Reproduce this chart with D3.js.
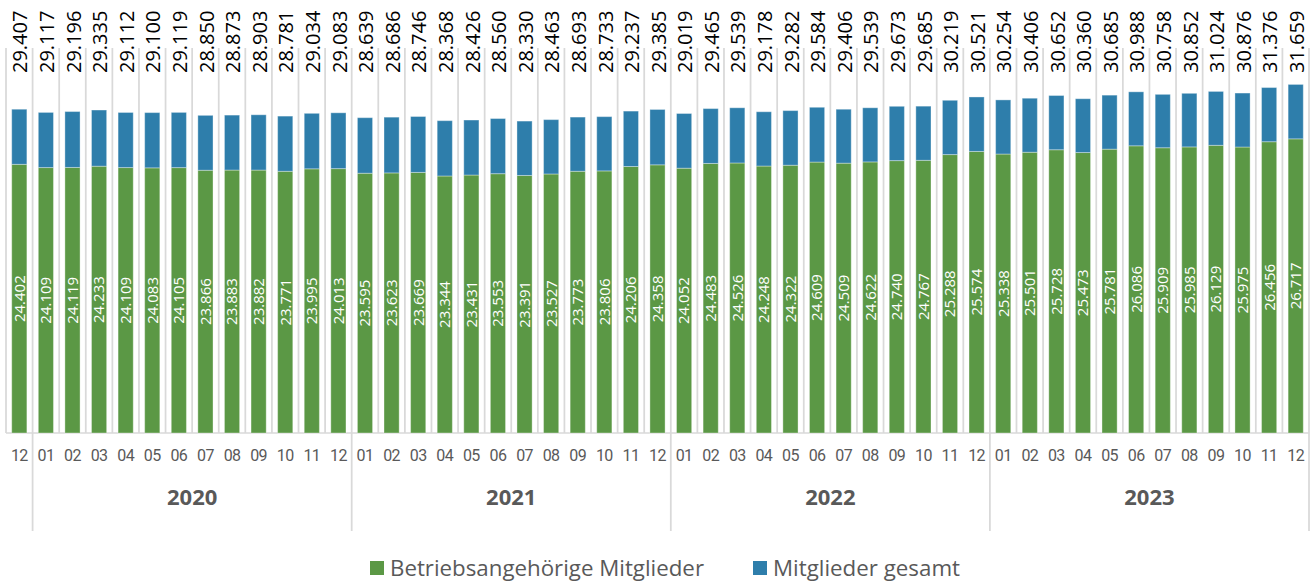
<!DOCTYPE html>
<html>
<head>
<meta charset="utf-8">
<script src="https://cdn.jsdelivr.net/npm/d3@7"></script>
<style>
  body { margin: 0; background: #fff; }
  svg { display: block; font-family: "Open Sans", "Noto Sans", sans-serif; }
</style>
</head>
<body>
<div id="chart"></div>
<script>
// data
var months = ["12",
  "01","02","03","04","05","06","07","08","09","10","11","12",
  "01","02","03","04","05","06","07","08","09","10","11","12",
  "01","02","03","04","05","06","07","08","09","10","11","12",
  "01","02","03","04","05","06","07","08","09","10","11","12"];
var years = ["2019",
  "2020","2020","2020","2020","2020","2020","2020","2020","2020","2020","2020","2020",
  "2021","2021","2021","2021","2021","2021","2021","2021","2021","2021","2021","2021",
  "2022","2022","2022","2022","2022","2022","2022","2022","2022","2022","2022","2022",
  "2023","2023","2023","2023","2023","2023","2023","2023","2023","2023","2023","2023"];
var yearLabels = ["2020", "2021", "2022", "2023"];

// Mitglieder gesamt
var gesamt = [29407,
  29117, 29196, 29335, 29112, 29100, 29119, 28850, 28873, 28903, 28781, 29034, 29083,
  28639, 28686, 28746, 28368, 28426, 28560, 28330, 28463, 28693, 28733, 29237, 29385,
  29019, 29465, 29539, 29178, 29282, 29584, 29406, 29539, 29673, 29685, 30219, 30521,
  30254, 30406, 30652, 30360, 30685, 30988, 30758, 30852, 31024, 30876, 31376, 31659];

// Betriebsangehörige Mitglieder
var betrieb = [24402,
  24109, 24119, 24233, 24109, 24083, 24105, 23866, 23883, 23882, 23771, 23995, 24013,
  23595, 23623, 23669, 23344, 23431, 23553, 23391, 23527, 23773, 23806, 24206, 24358,
  24052, 24483, 24526, 24248, 24322, 24609, 24509, 24622, 24740, 24767, 25288, 25574,
  25338, 25501, 25728, 25473, 25781, 26086, 25909, 25985, 26129, 25975, 26456, 26717];

var greenColor = "#5b9845",
    blueColor = "#2e7eab",
    gridColor = "#d9d9d9",
    textColor = "#595959";

var width = 1314, height = 581;
var baseY = 433;

var keys = months.map(function(m, i) { return years[i] + "-" + m; });
var data = keys.map(function(k, i) {
  return { key: k, month: months[i], year: years[i], total: gesamt[i], betrieb: betrieb[i] };
});

var svg = d3.select("#chart").append("svg")
    .attr("width", width)
    .attr("height", height);

var x = d3.scaleBand()
    .domain(keys)
    .range([6, 1309])
    .paddingInner(0.43)
    .paddingOuter(0.215);

var step = x.step();
var y = d3.scaleLinear()
    .domain([0, 40000])
    .range([baseY, baseY - 40000 * 0.01101]);

function bandStart(i) { return 6 + i * step; }

// vertical gridlines between categories
var gridXs = d3.range(keys.length + 1).map(bandStart);
svg.append("g").selectAll("line")
    .data(gridXs)
  .enter().append("line")
    .attr("x1", function(d) { return d; })
    .attr("x2", function(d) { return d; })
    .attr("y1", 48)
    .attr("y2", baseY)
    .attr("stroke", gridColor)
    .attr("stroke-width", 1.75);

// axis line
svg.append("line")
    .attr("x1", 6).attr("x2", 1309)
    .attr("y1", baseY).attr("y2", baseY)
    .attr("stroke", gridColor)
    .attr("stroke-width", 1.5);

// year separators below the axis
var sepIdx = [1, 13, 25, 37, 49];
svg.append("g").selectAll("line")
    .data(sepIdx)
  .enter().append("line")
    .attr("x1", function(d) { return bandStart(d); })
    .attr("x2", function(d) { return bandStart(d); })
    .attr("y1", baseY)
    .attr("y2", 531)
    .attr("stroke", gridColor)
    .attr("stroke-width", 1.75);

// green bars
svg.append("g").selectAll("rect")
    .data(data)
  .enter().append("rect")
    .attr("x", function(d) { return x(d.key); })
    .attr("width", x.bandwidth())
    .attr("y", function(d) { return y(d.betrieb); })
    .attr("height", function(d) { return y(0) - y(d.betrieb); })
    .attr("fill", greenColor)
    .attr("stroke", "rgba(255,255,255,0.35)")
    .attr("stroke-width", 1);

// blue bars stacked on top
svg.append("g").selectAll("rect")
    .data(data)
  .enter().append("rect")
    .attr("x", function(d) { return x(d.key); })
    .attr("width", x.bandwidth())
    .attr("y", function(d) { return y(d.total); })
    .attr("height", function(d) { return y(d.betrieb) - y(d.total); })
    .attr("fill", blueColor)
    .attr("stroke", "rgba(255,255,255,0.35)")
    .attr("stroke-width", 1);

var fmt = function(v) { return d3.format(",")(v).replace(",", "."); };

// labels inside green bars
svg.append("g").selectAll("text")
    .data(data)
  .enter().append("text")
    .attr("transform", function(d) {
      var cx = x(d.key) + x.bandwidth() / 2;
      var cy = (y(0) + y(d.betrieb)) / 2;
      return "translate(" + cx + "," + cy + ") rotate(-90)";
    })
    .attr("text-anchor", "middle")
    .attr("dy", "0.36em")
    .attr("fill", "#fff")
    .style("font-size", "15px")
    .text(function(d) { return fmt(d.betrieb); });

// total labels at top
svg.append("g").selectAll("text")
    .data(data)
  .enter().append("text")
    .attr("transform", function(d) {
      var cx = x(d.key) + x.bandwidth() / 2 + 1;
      return "translate(" + cx + ",73) rotate(-90)";
    })
    .attr("text-anchor", "start")
    .attr("dy", "0.36em")
    .attr("fill", "#000")
    .style("font-size", "20px")
    .text(function(d) { return fmt(d.total); });

// month labels
svg.append("g").selectAll("text")
    .data(data)
  .enter().append("text")
    .attr("x", function(d) { return x(d.key) + x.bandwidth() / 2; })
    .attr("y", 461)
    .attr("text-anchor", "middle")
    .attr("fill", textColor)
    .style("font-family", "Roboto, sans-serif")
    .style("font-size", "16px")
    .style("letter-spacing", "-0.6px")
    .text(function(d) { return d.month; });

// year labels
svg.append("g").selectAll("text")
    .data(yearLabels)
  .enter().append("text")
    .attr("x", function(d, i) { return (bandStart(sepIdx[i]) + bandStart(sepIdx[i + 1])) / 2; })
    .attr("y", 505)
    .attr("text-anchor", "middle")
    .attr("fill", textColor)
    .style("font-size", "22px")
    .style("font-weight", "bold")
    .text(function(d) { return d; });

// legend
var legendItems = [
  { label: "Betriebsangehörige Mitglieder", color: greenColor, x: 370, len: 314 },
  { label: "Mitglieder gesamt", color: blueColor, x: 753, len: 187 }
];
var lg = svg.append("g").selectAll("g")
    .data(legendItems)
  .enter().append("g");
lg.append("rect")
    .attr("x", function(d) { return d.x; })
    .attr("y", 561)
    .attr("width", 14)
    .attr("height", 14)
    .attr("fill", function(d) { return d.color; });
lg.append("text")
    .attr("x", function(d) { return d.x + 20; })
    .attr("y", 576)
    .attr("fill", textColor)
    .style("font-size", "21px")
    .attr("textLength", function(d) { return d.len; })
    .attr("lengthAdjust", "spacingAndGlyphs")
    .text(function(d) { return d.label; });
</script>
</body>
</html>
